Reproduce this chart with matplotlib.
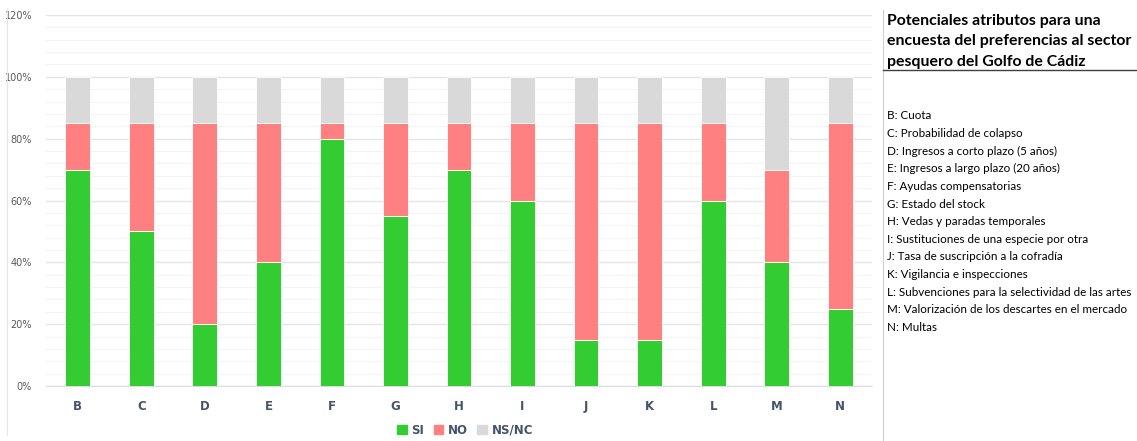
import numpy as np
import matplotlib.pyplot as plt
from matplotlib.lines import Line2D
from matplotlib.ticker import MultipleLocator, PercentFormatter

categorias = ["B", "C", "D", "E", "F", "G", "H", "I", "J", "K", "L", "M", "N"]
si = [70, 50, 20, 40, 80, 55, 70, 60, 15, 15, 60, 40, 25]
no = [15, 35, 65, 45, 5, 30, 15, 25, 70, 70, 25, 30, 60]
nsnc = [15, 15, 15, 15, 15, 15, 15, 15, 15, 15, 15, 30, 15]
series = ["SI", "NO", "NS/NC"]
colores = ["#33CC33", "#FF8080", "#D9D9D9"]

titulo = ["Potenciales atributos para una",
          "encuesta del preferencias al sector",
          "pesquero del Golfo de Cádiz"]
leyenda_atributos = [
    "B: Cuota",
    "C: Probabilidad de colapso",
    "D: Ingresos a corto plazo (5 años)",
    "E: Ingresos a largo plazo (20 años)",
    "F: Ayudas compensatorias",
    "G: Estado del stock",
    "H: Vedas y paradas temporales",
    "I: Sustituciones de una especie por otra",
    "J: Tasa de suscripción a la cofradía",
    "K: Vigilancia e inspecciones",
    "L: Subvenciones para la selectividad de las artes",
    "M: Valorización de los descartes en el mercado",
    "N: Multas",
]

W, H = 1137, 441
fig = plt.figure(figsize=(W / 100, H / 100), dpi=100)
ax = fig.add_axes([46 / W, 1 - 386 / H, (872 - 46) / W, (386 - 15) / H])

x = np.arange(len(categorias))
abajo = np.zeros(len(categorias))
for nombre, valores, color in zip(series, [si, no, nsnc], colores):
    ax.bar(x, valores, 0.39, bottom=abajo, color=color, edgecolor="white",
           linewidth=0.6, label=nombre, zorder=3)
    abajo += np.array(valores)

ax.set_xlim(-0.5, len(categorias) - 0.5)
ax.set_ylim(0, 120)
ax.yaxis.set_major_locator(MultipleLocator(20))
ax.yaxis.set_minor_locator(MultipleLocator(4))
ax.yaxis.set_major_formatter(PercentFormatter(decimals=0))
ax.grid(axis="y", which="major", color="#E4E4EC", linewidth=1.0, zorder=0)
ax.grid(axis="y", which="minor", color="#F3F3F6", linewidth=0.8, zorder=0)
for s in ["top", "right", "left"]:
    ax.spines[s].set_visible(False)
ax.spines["bottom"].set_color("#D9DCE3")
ax.tick_params(axis="both", which="both", length=0)
ax.tick_params(axis="y", labelsize=7, labelcolor="#595959", pad=10)
ax.set_xticks(x)
ax.set_xticklabels(categorias, fontsize=8.5, fontweight="bold", color="#44546A")
ax.tick_params(axis="x", pad=10)

handles = [plt.Rectangle((0, 0), 1, 1, color=c) for c in colores]
leg = fig.legend(handles, series, loc="center", bbox_to_anchor=(465 / W, 1 - 430 / H),
                 ncol=3, frameon=False, handlelength=0.8, handleheight=0.8,
                 handletextpad=0.4, columnspacing=0.8,
                 prop={"size": 8.5, "weight": "bold"})
for t in leg.get_texts():
    t.set_color("#44546A")

# marco izquierdo y caja de texto
fig.add_artist(Line2D([7 / W, 7 / W], [1 - 8 / H, 1 - 435 / H], color="#E6E6E6", lw=0.8))
fig.add_artist(Line2D([883 / W, 883 / W], [1 - 10 / H, 0], color="#D0D0D0", lw=0.8))
fig.add_artist(Line2D([883 / W, 1], [1 - 70 / H, 1 - 70 / H], color="#404040", lw=1.0))

for i, linea in enumerate(titulo):
    fig.text(887 / W, 1 - (25 + i * 20.5) / H, linea, ha="left", va="baseline",
             fontsize=11.4, fontweight="bold", family="Lato", color="black")
for i, linea in enumerate(leyenda_atributos):
    fig.text(887 / W, 1 - (116 + i * 17.6) / H, linea, ha="left", va="center",
             fontsize=8.4, family="Lato", color="black")

fig.savefig("out.png", dpi=100)
